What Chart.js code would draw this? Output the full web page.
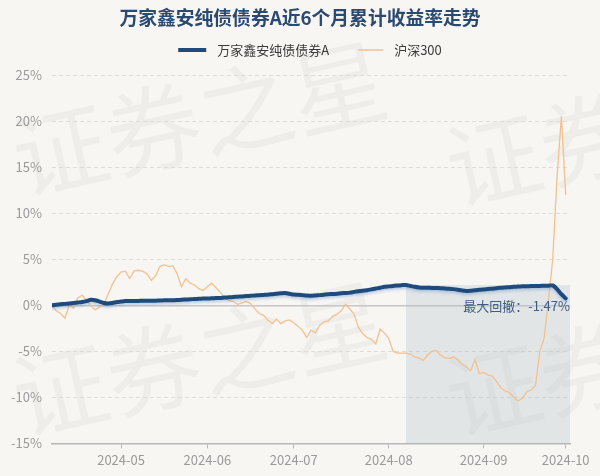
<!DOCTYPE html>
<html>
<head>
<meta charset="utf-8">
<script src="https://cdn.jsdelivr.net/npm/chart.js@4"></script>
<style>
  html, body { margin: 0; padding: 0; background: #f8f6f2; }
  #wrap { width: 600px; height: 476px; }
</style>
</head>
<body>
<div id="wrap"><canvas id="chart" width="600" height="476"></canvas></div>
<script>
// fund vs CSI300, cumulative return over ~6 months (trading days, in %)

const titleText = "万家鑫安纯债债券A近6个月累计收益率走势";
const fundName = "万家鑫安纯债债券A";
const indexName = "沪深300";
const drawdownText = "最大回撤：-1.47%";

const fundReturn = [
  0.00, 0.05, 0.10, 0.15, 0.20, 0.25, 0.30, 0.35, 0.45, 0.60,
  0.55, 0.40, 0.25, 0.20, 0.25, 0.35, 0.40, 0.45, 0.45, 0.46,
  0.47, 0.48, 0.48, 0.50, 0.50, 0.52, 0.53, 0.54, 0.55, 0.56,
  0.60, 0.62, 0.65, 0.68, 0.70, 0.72, 0.73, 0.75, 0.78, 0.80,
  0.83, 0.86, 0.90, 0.93, 0.96, 1.00, 1.03, 1.06, 1.09, 1.12,
  1.15, 1.20, 1.25, 1.30, 1.34, 1.25, 1.16, 1.15, 1.10, 1.05,
  1.02, 1.06, 1.10, 1.15, 1.20, 1.22, 1.25, 1.30, 1.33, 1.37,
  1.45, 1.52, 1.58, 1.63, 1.72, 1.82, 1.90, 2.00, 2.05, 2.10,
  2.15, 2.18, 2.20, 2.10, 2.00, 1.93, 1.90, 1.90, 1.88, 1.87,
  1.85, 1.83, 1.80, 1.75, 1.68, 1.60, 1.56, 1.58, 1.62, 1.68,
  1.72, 1.76, 1.80, 1.85, 1.90, 1.93, 1.96, 2.00, 2.03, 2.05,
  2.07, 2.08, 2.10, 2.10, 2.12, 2.13, 2.15, 1.75, 1.20, 0.75
];

const hs300Return = [
  0.0, -0.6, -0.9, -1.4, 0.0, -0.3, 0.8, 1.1, 0.5, -0.1,
  -0.5, -0.2, 0.1, 1.2, 2.3, 3.1, 3.6, 3.7, 2.9, 3.7,
  3.8, 3.7, 3.4, 2.7, 3.2, 4.2, 4.4, 4.2, 4.3, 3.4,
  2.0, 2.9, 2.4, 2.2, 1.8, 1.6, 2.0, 2.4, 1.9, 1.4,
  0.8, 0.5, 0.4, 0.1, 0.25, 0.4, 0.2, -0.4, -0.9, -1.1,
  -1.6, -2.0, -1.5, -2.0, -1.7, -1.6, -1.9, -2.3, -2.7, -3.5,
  -2.7, -3.0, -2.2, -1.8, -1.7, -1.2, -1.0, -0.6, 0.1, -0.4,
  -1.0, -2.4, -3.1, -3.5, -3.7, -4.2, -2.6, -3.0, -3.6, -5.0,
  -5.2, -5.2, -5.2, -5.3, -5.6, -5.7, -6.0, -5.4, -5.0, -4.9,
  -5.4, -5.7, -5.8, -5.6, -5.9, -6.4, -6.7, -7.1, -5.9, -7.4,
  -7.3, -7.6, -7.7, -8.3, -9.0, -9.3, -9.5, -10.0, -10.4, -10.1,
  -9.4, -9.2, -8.7, -5.0, -3.6, 0.5, 5.0, 13.9, 20.5, 12.0
];

// x ticks sit on these trading-day indexes
const tickIdx = [16, 36, 56, 78, 100, 119];
const tickLabels = ["2024-05", "2024-06", "2024-07", "2024-08", "2024-09", "2024-10"];

const yTicks = [-15, -10, -5, 0, 5, 10, 15, 20, 25];

const bgColor = "#f8f6f2";
const fundColor = "#1e4a7c";
const indexColor = "#f3c08f";
const FONT = '"Noto Sans CJK SC", "Noto Sans", sans-serif';

Chart.defaults.font.family = FONT;

const toPoints = arr => arr.map((v, i) => ({ x: i, y: v }));

// find the max drawdown window of the fund
function maxDrawdown(vals) {
  let peakIdx = 0, best = 0, from = 0, to = 0;
  for (let i = 0; i < vals.length; i++) {
    if (vals[i] > vals[peakIdx]) peakIdx = i;
    const dd = (1 + vals[i] / 100) / (1 + vals[peakIdx] / 100) - 1;
    if (dd < best) { best = dd; from = peakIdx; to = i; }
  }
  return { from, to };
}

const decor = {
  id: "decor",
  beforeDraw(chart) {
    const c = chart.ctx;
    c.save();
    c.fillStyle = bgColor;
    c.fillRect(0, 0, chart.width, chart.height);

    // watermark
    c.fillStyle = "rgba(0,0,0,0.035)";
    c.font = "95px " + FONT;
    c.textBaseline = "middle";
    c.textAlign = "left";
    for (const [x, y] of [[14, 160], [14, 400], [447, 170], [447, 400]]) {
      c.save();
      c.translate(x, y);
      c.rotate(-0.22);
      c.fillText("证券之星", 0, 0);
      c.restore();
    }

    // title
    c.textAlign = "center";
    c.fillStyle = "#2b4a72";
    c.font = "bold 18.8px " + FONT;
    c.fillText(titleText, chart.width / 2, 18);

    // legend
    c.textAlign = "left";
    c.font = "13px " + FONT;
    const w1 = c.measureText(fundName).width;
    const w2 = c.measureText(indexName).width;
    const total = 28 + 11 + w1 + 29 + 25 + 11 + w2;
    let x = chart.width / 2 + 10 - total / 2;
    const ly = 50;
    c.lineCap = "butt";
    c.strokeStyle = fundColor; c.lineWidth = 4;
    c.beginPath(); c.moveTo(x, ly); c.lineTo(x + 28, ly); c.stroke();
    x += 39;
    c.fillStyle = "#3a3a3a";
    c.fillText(fundName, x, ly);
    x += w1 + 29;
    c.strokeStyle = indexColor; c.lineWidth = 1.5;
    c.beginPath(); c.moveTo(x, ly); c.lineTo(x + 25, ly); c.stroke();
    x += 36;
    c.fillText(indexName, x, ly);
    c.restore();
  },
  beforeDatasetsDraw(chart) {
    const c = chart.ctx, a = chart.chartArea;
    const xs = chart.scales.x, ys = chart.scales.y;
    const dd = maxDrawdown(fundReturn);
    const x0 = xs.getPixelForValue(dd.from);
    const x1 = dd.to === fundReturn.length - 1 ? a.right : xs.getPixelForValue(dd.to);
    const y0 = ys.getPixelForValue(fundReturn[dd.from]);
    c.save();
    c.fillStyle = "rgba(170,185,202,0.28)";
    c.fillRect(x0, y0, x1 - x0, a.bottom - y0);
    c.restore();
  },
  afterDatasetsDraw(chart) {
    const c = chart.ctx, a = chart.chartArea;
    const ys = chart.scales.y;
    const dd = maxDrawdown(fundReturn);
    const y0 = ys.getPixelForValue(fundReturn[dd.from]);
    c.save();
    c.font = "13px " + FONT;
    c.fillStyle = "#3e5d86";
    c.textAlign = "right";
    c.textBaseline = "middle";
    c.fillText(drawdownText, a.right, y0 + 21);
    c.restore();
  },
  beforeDatasetDraw(chart, args) {
    if (args.index !== 0) return;
    const c = chart.ctx;
    c.save();
    c.shadowColor = "rgba(70,130,200,0.35)";
    c.shadowBlur = 3;
    c.shadowOffsetY = 2;
  },
  afterDatasetDraw(chart, args) {
    if (args.index !== 0) return;
    chart.ctx.restore();
  }
};

new Chart(document.getElementById("chart"), {
  type: "line",
  data: {
    datasets: [
      {
        label: fundName,
        data: toPoints(fundReturn),
        borderColor: fundColor,
        borderWidth: 4,
        pointRadius: 0,
        tension: 0.2,
        borderCapStyle: "round"
      },
      {
        label: indexName,
        data: toPoints(hs300Return),
        borderColor: indexColor,
        borderWidth: 1.3,
        pointRadius: 0,
        tension: 0
      }
    ]
  },
  options: {
    responsive: false,
    animation: false,
    layout: { padding: { left: 0, right: 30, top: 75, bottom: 4 } },
    plugins: {
      title: { display: false },
      legend: { display: false },
      tooltip: { enabled: false }
    },
    scales: {
      x: {
        type: "linear",
        min: 0,
        max: 120,
        afterBuildTicks: s => { s.ticks = tickIdx.map(v => ({ value: v })); },
        ticks: {
          callback: v => tickLabels[tickIdx.indexOf(v)],
          color: "#9a9a9a",
          font: { size: 13 },
          maxRotation: 0,
          autoSkip: false,
          padding: 4
        },
        grid: { drawOnChartArea: false, tickLength: 5, color: "#b8b8b8" },
        border: { color: "#b8b8b8", width: 1.5 }
      },
      y: {
        min: -15,
        max: 25,
        afterBuildTicks: s => { s.ticks = yTicks.map(v => ({ value: v })); },
        afterFit: s => { s.width = 52; },
        ticks: {
          callback: v => v + "%",
          color: "#9a9a9a",
          font: { size: 13 },
          padding: 10
        },
        grid: {
          drawTicks: false,
          color: ctx => (ctx.tick && ctx.tick.value === 0 ? "#c6c6c6" : "#dcdcdc"),
          lineWidth: ctx => (ctx.tick && ctx.tick.value === 0 ? 1.5 : 1)
        },
        border: {
          display: false,
          dash: ctx => (ctx.tick && ctx.tick.value === 0 ? [] : [4, 3])
        }
      }
    }
  },
  plugins: [decor]
});
</script>
</body>
</html>
